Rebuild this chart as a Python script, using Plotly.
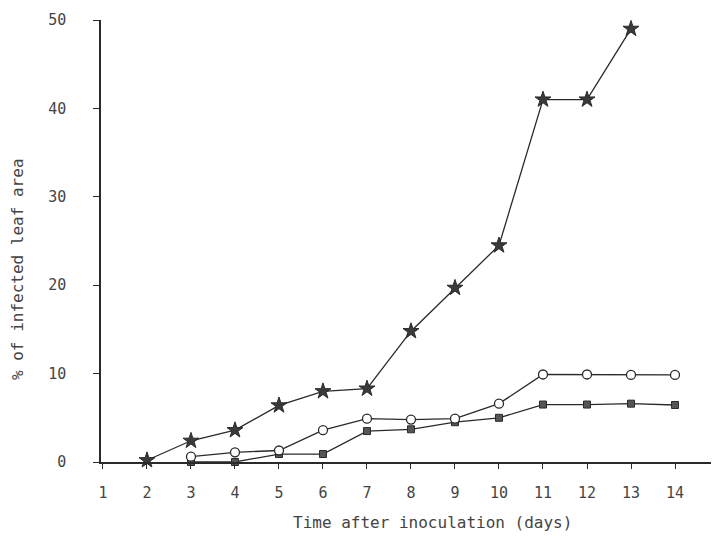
import plotly.graph_objects as go

days_star = [2, 3, 4, 5, 6, 7, 8, 9, 10, 11, 12, 13]
star_vals = [0.2, 2.4, 3.6, 6.4, 8.0, 8.3, 14.8, 19.7, 24.5, 41.0, 41.0, 49.0]

days_circle = [3, 4, 5, 6, 7, 8, 9, 10, 11, 12, 13, 14]
circle_vals = [0.6, 1.1, 1.3, 3.6, 4.9, 4.8, 4.9, 6.6, 9.9, 9.9, 9.85, 9.85]

days_square = [3, 4, 5, 6, 7, 8, 9, 10, 11, 12, 13, 14]
square_vals = [0.0, 0.0, 0.9, 0.9, 3.5, 3.7, 4.5, 5.0, 6.5, 6.5, 6.6, 6.45]

x_ticks = list(range(1, 15))
y_ticks = [0, 10, 20, 30, 40, 50]

ink = "#2a2a2a"
tick_font = dict(family="DejaVu Sans Mono", size=15, color="#444444")
title_font = dict(family="DejaVu Sans Mono", size=16, color="#444444")

fig = go.Figure()
fig.add_trace(go.Scatter(
    x=days_square, y=square_vals, mode="lines+markers",
    line=dict(color=ink, width=1.3),
    marker=dict(symbol="square", size=7, color="#555555", line=dict(color=ink, width=1)),
    cliponaxis=False, showlegend=False))
fig.add_trace(go.Scatter(
    x=days_circle, y=circle_vals, mode="lines+markers",
    line=dict(color=ink, width=1.3),
    marker=dict(symbol="circle", size=9, color="white", line=dict(color=ink, width=1.3)),
    cliponaxis=False, showlegend=False))
fig.add_trace(go.Scatter(
    x=days_star, y=star_vals, mode="lines+markers",
    line=dict(color=ink, width=1.3),
    marker=dict(symbol="star", size=12, color="#3a3a3a", line=dict(color=ink, width=1)),
    cliponaxis=False, showlegend=False))

fig.update_layout(
    width=711, height=528,
    margin=dict(l=93, r=0, t=12, b=74),
    paper_bgcolor="white", plot_bgcolor="white",
    font=tick_font,
    annotations=[
        dict(text="% of infected leaf area", textangle=-90,
             xref="paper", yref="paper", x=-0.134, y=0.437,
             xanchor="center", yanchor="middle", showarrow=False,
             font=title_font),
        dict(text="Time after inoculation (days)",
             xref="paper", yref="paper", x=0.537, y=-0.138,
             xanchor="center", yanchor="middle", showarrow=False,
             font=title_font),
    ],
)
fig.update_xaxes(
    range=[0.955, 15.0], tickvals=x_ticks, ticktext=[str(v) for v in x_ticks],
    showgrid=False, zeroline=False, showline=True, linecolor=ink, linewidth=2,
    ticks="outside", ticklen=5, tickcolor=ink, tickwidth=1,
    ticklabelstandoff=11, tickfont=tick_font,
)
fig.update_yaxes(
    range=[0, 50], tickvals=y_ticks, ticktext=[str(v) for v in y_ticks],
    showgrid=False, zeroline=False, showline=True, linecolor=ink, linewidth=1.5,
    ticks="outside", ticklen=6, tickcolor=ink, tickwidth=1,
    ticklabelstandoff=24, tickfont=tick_font,
)

fig.write_html("out.html")
